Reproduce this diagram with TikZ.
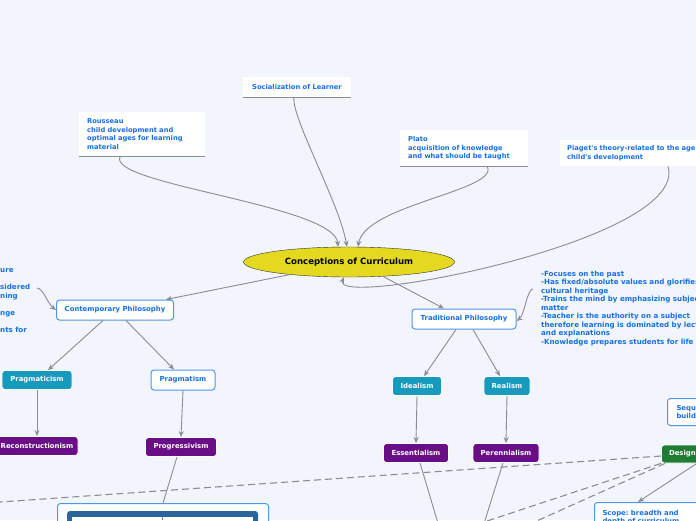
\documentclass[tikz,border=0pt]{standalone}
\usepackage{fontspec}
\newfontfamily\mapfont{DejaVu Sans}
\usetikzlibrary{arrows.meta,shapes.geometric}
\definecolor{mapbg}{RGB}{243,245,253}
\definecolor{mapblue}{RGB}{22,112,228}
\definecolor{linegray}{RGB}{138,140,150}
\definecolor{tealbox}{RGB}{24,154,188}
\definecolor{purplebox}{RGB}{106,14,136}
\definecolor{greenbox}{RGB}{30,124,52}
\definecolor{rootyellow}{RGB}{228,217,30}
\definecolor{chartblue}{RGB}{42,102,156}
\tikzset{
  root/.style={
    ellipse,
    draw=black!80,
    fill=rootyellow,
    minimum width=211pt,
    minimum height=30pt,
    inner sep=0pt,
    font=\mapfont\bfseries\fontsize{8.6}{10}\selectfont
  },
  note/.style={
    fill=white,
    text=mapblue,
    align=left,
    inner xsep=8pt,
    inner ysep=0pt,
    font=\mapfont\bfseries\fontsize{6.7}{8.4}\selectfont
  },
  list/.style={
    text=mapblue,
    align=left,
    inner sep=0pt,
    font=\mapfont\bfseries\fontsize{7.1}{8.5}\selectfont
  },
  branch/.style={
    rounded corners=3pt,
    draw=mapblue!75,
    line width=1pt,
    fill=white,
    text=mapblue,
    minimum height=20pt,
    inner sep=2pt,
    font=\mapfont\bfseries\fontsize{6.9}{8.4}\selectfont
  },
  school/.style={
    rounded corners=3pt,
    draw=white,
    line width=.8pt,
    fill=tealbox,
    text=white,
    minimum height=19pt,
    inner sep=2pt,
    font=\mapfont\bfseries\fontsize{6.9}{8.4}\selectfont
  },
  ism/.style={
    school,
    fill=purplebox
  },
  design/.style={
    school,
    fill=greenbox
  },
  arrow/.style={
    -{Stealth[length=6pt,width=5pt]},
    line width=.9pt,
    linegray
  },
  link/.style={
    line width=.9pt,
    linegray
  },
  crosslink/.style={
    line width=1.1pt,
    linegray,
    dash pattern=on 7pt off 4pt
  }
}

\begin{document}
\begin{tikzpicture}[x=1pt,y=-1pt]
\useasboundingbox (0,0) rectangle (696,520);
\fill[mapbg] (0,0) rectangle (696,520);
\clip (0,0) rectangle (696,520);

% centre
\node[root] (root) at (349,262) {Conceptions of Curriculum};

% notes above
\node[note,minimum width=108pt,minimum height=20pt,inner xsep=0pt] (social) at (297,87) {Socialization of Learner};
\node[note,text width=110pt,minimum height=44pt,anchor=north west] (rousseau) at (79,112) {Rousseau\\child development and\\optimal ages for learning\\material};
\node[note,text width=112pt,minimum height=36pt,anchor=north west] (plato) at (400,130) {Plato\\acquisition of knowledge\\and what should be taught};
\node[note,text width=150pt,minimum height=26pt,anchor=north west,inner xsep=7pt] (piaget) at (560,140) {Piaget's theory-related to the age\\child's development};
\draw[linegray,line width=1pt] (social.south west) -- (social.south east);
\draw[linegray,line width=1pt] (rousseau.south west) -- (rousseau.south east);
\draw[linegray,line width=1pt] (plato.south west) -- (plato.south east);

\draw[arrow] ([xshift=-3pt]social.south) .. controls +(-3,20) and +(-8,-45) .. ([xshift=-2pt]root.north);
\draw[arrow] ([xshift=-22pt]rousseau.south) .. controls +(-15,28) and +(-3,-42) .. ([xshift=-11pt]root.north);
\draw[arrow] ([xshift=23pt]plato.south) .. controls +(13,24) and +(7,-42) .. ([xshift=9pt]root.north);
\draw[arrow] ([xshift=108pt]piaget.south west) .. controls +(22,74) and +(-14,32) .. ([xshift=-5pt]root.south);

% philosophies
\node[branch,minimum width=117pt] (contemporary) at (115,310) {Contemporary Philosophy};
\node[branch,minimum width=104pt] (traditional) at (464,319) {Traditional Philosophy};
\draw[arrow] (root.192) -- ([xshift=-8pt]contemporary.north east);
\draw[arrow] (root.-23) -- ([xshift=-20pt]traditional.north);

% side lists
\node[list,anchor=north west] (leftlist) at (0,268.5) {ure\\~\\sidered\\ning\\~\\nge\\~\\nts for};
\coordinate (leftend) at (37,288);
\draw[arrow] (leftend) .. controls +(6,0) and +(-8,-6) .. (contemporary.west);

\node[list,anchor=north west] (tradlist) at (541,270.5) {-Focuses on the past\\-Has fixed/absolute values and glorifies\\cultural heritage\\-Trains the mind by emphasizing subject\\matter\\-Teacher is the authority on a subject\\therefore learning is dominated by lectures\\and explanations\\-Knowledge prepares students for life};
\coordinate (tradend) at (533,289);
\draw[arrow] (tradend) .. controls +(-6,0) and +(8,-6) .. ([yshift=-2pt]traditional.east);

% schools
\node[school,minimum width=70pt] (pragmaticism) at (37,380) {Pragmaticism};
\node[branch,minimum width=64pt] (pragmatism) at (183,380) {Pragmatism};
\node[school,minimum width=49pt] (idealism) at (417,386) {Idealism};
\node[school,minimum width=46pt] (realism) at (507,386) {Realism};
\draw[arrow] ([xshift=-12pt]contemporary.south) -- ([xshift=11pt]pragmaticism.north);
\draw[arrow] ([xshift=11pt]contemporary.south) -- ([xshift=-9pt]pragmatism.north);
\draw[arrow] ([xshift=-8pt]traditional.south) -- ([xshift=7pt]idealism.north);
\draw[arrow] ([xshift=9pt]traditional.south) -- ([xshift=-7pt]realism.north);

\node[ism,minimum width=82pt] (reconstructionism) at (37,446) {Reconstructionism};
\node[ism,minimum width=71pt] (progressivism) at (181,447) {Progressivism};
\node[ism,minimum width=65pt] (essentialism) at (416,453) {Essentialism};
\node[ism,minimum width=66pt] (perennialism) at (506,453) {Perennialism};
\draw[arrow] (pragmaticism.south) -- (reconstructionism.north);
\draw[arrow] (pragmatism.south) -- (progressivism.north);
\draw[arrow] (idealism.south) -- (essentialism.north);
\draw[arrow] (realism.south) -- (perennialism.north);

% design side
\node[branch,anchor=north west,align=left,text width=60pt,minimum height=27pt,inner xsep=9pt] (sequence) at (667,398) {Sequence\\builds};
\node[design,anchor=west,minimum width=42pt,minimum height=18pt] (design) at (661,454) {Design};
\node[branch,anchor=north west,align=left,text width=110pt,minimum height=30pt,inner xsep=8pt] (scope) at (594,502) {Scope:\ breadth and\\depth of curriculum};
\draw[arrow] ([xshift=-7pt]design.south east) -- ([xshift=44pt]scope.north west);

% chart at the bottom
\node[branch,anchor=north west,minimum width=211pt,minimum height=30pt] (chart) at (57,503) {};
\fill[chartblue,rounded corners=3pt] (67,511) rectangle (258,534);
\fill[white] (72,517) rectangle (253,534);
\draw[linegray,line width=.6pt] (162,517) -- (162,520);

% links leaving the view
\coordinate (essout) at (440,530);
\coordinate (perout) at (482,530);
\coordinate (recout) at (-10,464);
\draw[link] ([xshift=4pt]essentialism.south) -- (essout);
\draw[link] ([xshift=-3pt]perennialism.south) -- (perout);
\draw[link] ([xshift=-4pt]progressivism.south) -- (chart.north);
\draw[link] ([xshift=4pt]reconstructionism.south west) -- (recout);

\coordinate (dashA) at (-10,502.7);
\coordinate (dashB) at (478,524);
\coordinate (dashC) at (530,524);
\draw[crosslink] ([yshift=-2pt]design.west) -- (dashA);
\draw[crosslink] (design.south west) -- (dashB);
\draw[crosslink] ([xshift=4pt]design.south west) -- (dashC);
\end{tikzpicture}
\end{document}
